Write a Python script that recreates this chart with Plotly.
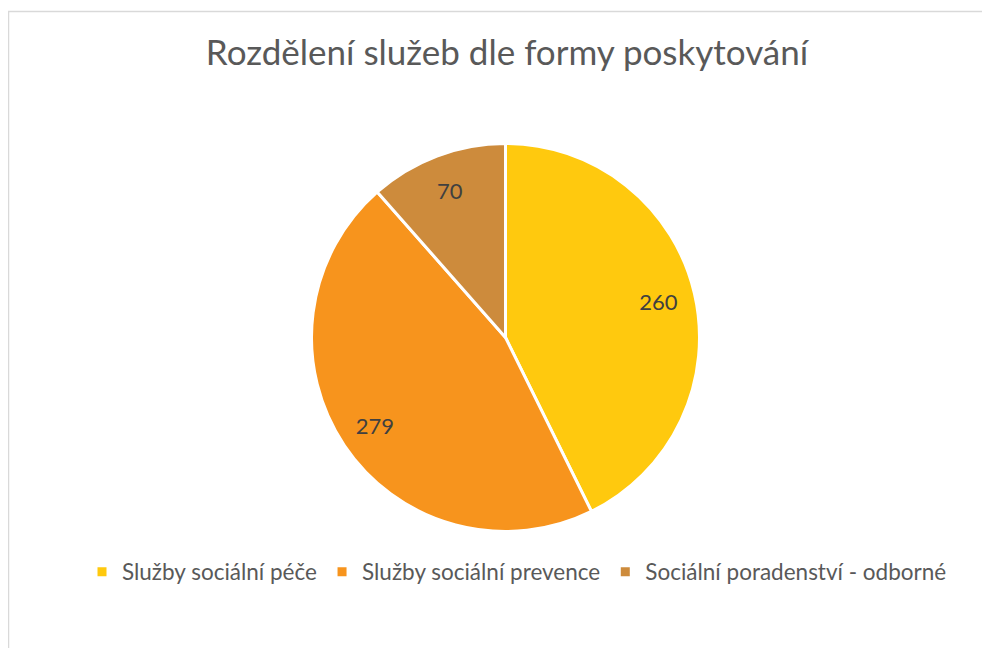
import plotly.graph_objects as go

categories = ["Služby sociální péče", "Služby sociální prevence", "Sociální poradenství - odborné"]
values = [260, 279, 70]
colors = ["#FFC90E", "#F7941D", "#CD8B3C"]
title_text = "Rozdělení služeb dle formy poskytování"

W, H = 990, 648
OFF = 8  # page body margin
pie_domain = dict(
    x=[(304 - 0.5) / W, (691 + 0.5) / W],
    y=[1 - (523 + 0.5) / H, 1 - (136 - 0.5) / H],
)

# Colored pie with white separators
base = go.Pie(
    labels=categories,
    values=values,
    sort=False,
    direction="clockwise",
    rotation=0,
    marker=dict(colors=colors, line=dict(color="white", width=3)),
    textinfo="none",
    domain=pie_domain,
    hoverinfo="label+value",
    showlegend=True,
)

# Transparent ring carrying the data labels further out (like Excel)
labels_ring = go.Pie(
    labels=categories,
    values=values,
    sort=False,
    direction="clockwise",
    rotation=0,
    hole=0.62,
    marker=dict(colors=["rgba(0,0,0,0)"] * len(values), line=dict(width=0)),
    textinfo="value",
    textposition="inside",
    insidetextorientation="horizontal",
    textfont=dict(family="Lato", size=22, color="#404040"),
    domain=pie_domain,
    hoverinfo="skip",
    showlegend=False,
)

fig = go.Figure([base, labels_ring])

fig.update_layout(
    width=W,
    height=H,
    margin=dict(l=0, r=0, t=0, b=0),
    paper_bgcolor="white",
    plot_bgcolor="white",
    title=dict(
        text=title_text,
        font=dict(family="Lato", size=35, color="#595959"),
        x=(507 - OFF) / W,
        xanchor="center",
        y=1 - 44.5 / H,
        yanchor="middle",
    ),
    showlegend=True,
    legend=dict(
        orientation="h",
        x=509 / W,
        xanchor="center",
        y=1 - 564 / H,
        yanchor="middle",
        font=dict(family="Lato", size=22.5, color="#595959"),
        itemclick=False,
    ),
    shapes=[
        dict(
            type="rect",
            xref="paper",
            yref="paper",
            x0=0.5 / W,
            x1=1.05,
            y0=-0.05,
            y1=1 - 3.5 / H,
            line=dict(color="#D9D9D9", width=1.5),
            fillcolor="rgba(0,0,0,0)",
            layer="below",
        )
    ],
)

fig.write_html("out.html")
